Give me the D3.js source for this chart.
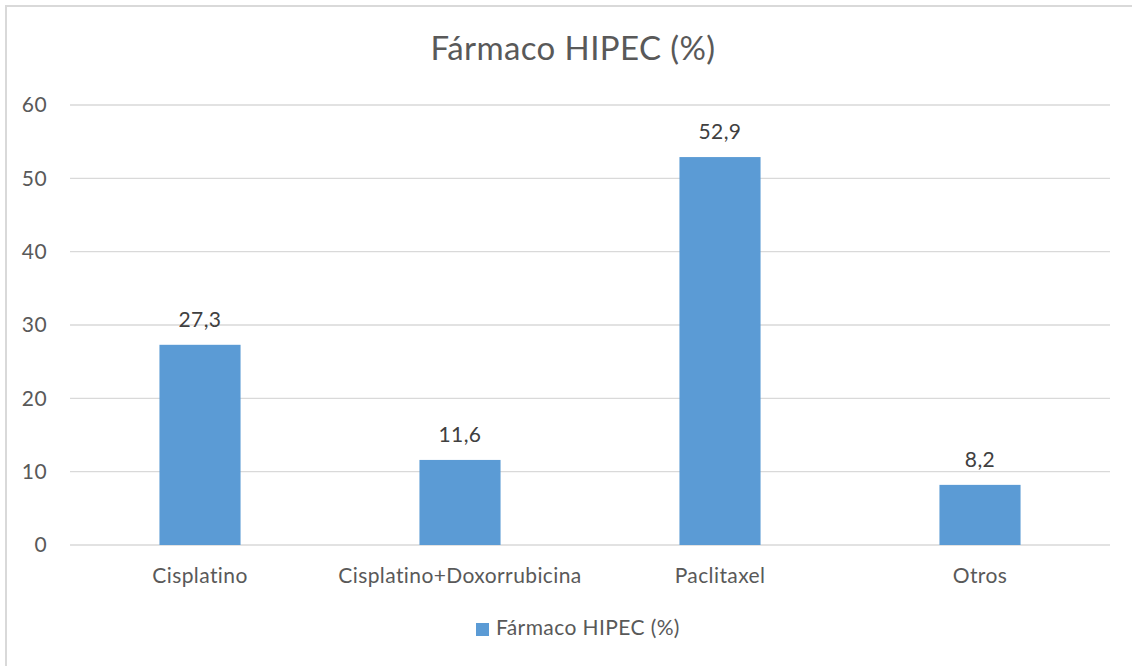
<!DOCTYPE html>
<html>
<head>
<meta charset="utf-8">
<script src="https://cdn.jsdelivr.net/npm/d3@7"></script>
<style>
  body { margin: 0; background: #fff; }
  text { font-family: Lato, "Open Sans", sans-serif; letter-spacing: 0.4px; }
</style>
</head>
<body>
<div id="chart"></div>
<script>
var categories = ["Cisplatino", "Cisplatino+Doxorrubicina", "Paclitaxel", "Otros"];
var values = [27.3, 11.6, 52.9, 8.2];
var yTicks = [0, 10, 20, 30, 40, 50, 60];
var seriesName = "Fármaco HIPEC (%)";

var svgWidth = 1132;
var svgHeight = 666;

var margin = { top: 105, right: 22, bottom: 121, left: 70 };
var width = svgWidth - margin.left - margin.right;
var height = svgHeight - margin.top - margin.bottom;

var labelSize = "21px";

var svg = d3.select("#chart")
    .append("svg")
    .attr("width", svgWidth)
    .attr("height", svgHeight);

// chart frame (only left and top edges show in the picture)
svg.append("rect")
    .attr("x", 6)
    .attr("y", 6)
    .attr("width", svgWidth + 20)
    .attr("height", svgHeight + 20)
    .attr("fill", "none")
    .attr("stroke", "#d9d9d9")
    .attr("stroke-width", 2);

var chartGroup = svg.append("g")
    .attr("transform", `translate(${margin.left}, ${margin.top})`);

var xScale = d3.scaleBand()
    .domain(categories)
    .range([0, width])
    .paddingInner(0.688)
    .paddingOuter(0.344);

var yScale = d3.scaleLinear()
    .domain([0, 60])
    .range([height, 0]);

// gridlines
chartGroup.selectAll(".grid")
    .data(yTicks)
    .enter()
    .append("line")
    .attr("x1", 0)
    .attr("x2", width)
    .attr("y1", d => yScale(d))
    .attr("y2", d => yScale(d))
    .attr("stroke", "#d9d9d9")
    .attr("stroke-width", 1.3);

// y axis labels
var leftAxis = d3.axisLeft(yScale).tickValues(yTicks).tickSize(0).tickPadding(23);
var yAxis = chartGroup.append("g").call(leftAxis);
yAxis.select(".domain").remove();
yAxis.selectAll("text")
    .style("font-size", labelSize)
    .attr("fill", "#595959");

// x axis labels
var bottomAxis = d3.axisBottom(xScale).tickSize(0).tickPadding(23);
var xAxis = chartGroup.append("g")
    .attr("transform", `translate(0, ${height})`)
    .call(bottomAxis);
xAxis.select(".domain").remove();
xAxis.selectAll("text")
    .style("font-size", labelSize)
    .attr("fill", "#595959");

// bars
chartGroup.selectAll("rect.bar")
    .data(values)
    .enter()
    .append("rect")
    .attr("class", "bar")
    .attr("x", (d, i) => xScale(categories[i]))
    .attr("y", d => yScale(d))
    .attr("width", xScale.bandwidth())
    .attr("height", d => height - yScale(d))
    .attr("fill", "#5b9bd5");

// value labels
chartGroup.selectAll("text.val")
    .data(values)
    .enter()
    .append("text")
    .attr("class", "val")
    .attr("x", (d, i) => xScale(categories[i]) + xScale.bandwidth() / 2)
    .attr("y", d => yScale(d) - 18)
    .attr("text-anchor", "middle")
    .style("font-size", labelSize)
    .attr("fill", "#404040")
    .text(d => String(d).replace(".", ","));

// title
svg.append("text")
    .attr("x", 573)
    .attr("y", 60)
    .attr("text-anchor", "middle")
    .style("font-size", "33px")
    .attr("fill", "#595959")
    .text(seriesName);

// legend
var legend = svg.append("g").attr("transform", "translate(476, 623)");
legend.append("rect")
    .attr("width", 13)
    .attr("height", 13)
    .attr("fill", "#5b9bd5");
legend.append("text")
    .attr("x", 20)
    .attr("y", 12)
    .style("font-size", labelSize)
    .attr("fill", "#595959")
    .text(seriesName);
</script>
</body>
</html>
